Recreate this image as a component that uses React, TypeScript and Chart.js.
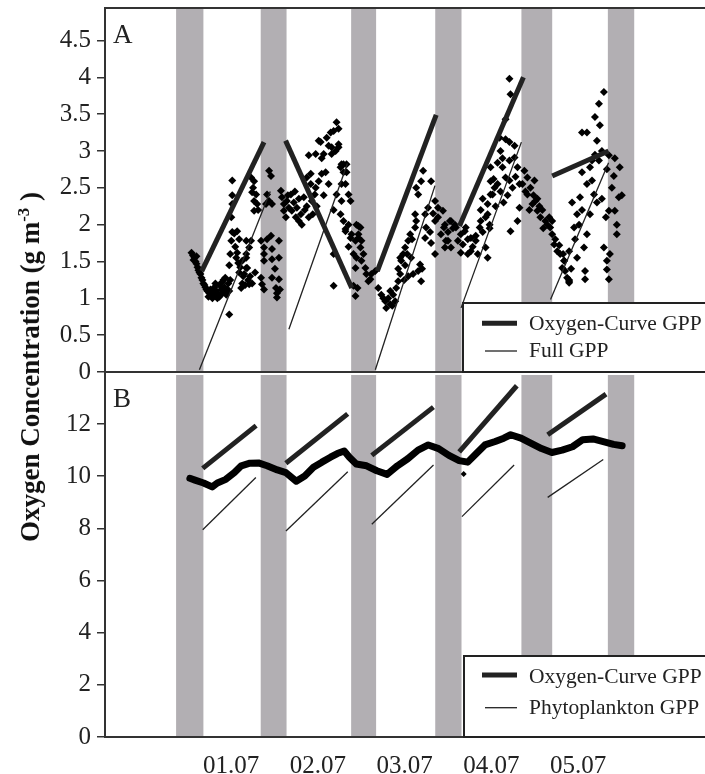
import React, { useEffect, useRef } from 'react';
import { Chart, registerables } from 'chart.js';

Chart.register(...registerables);

const FONT = "'Liberation Serif', 'Times New Roman', serif";

// x axis: days (1.5 = noon of 01.07)
const X_MIN = 0.044;
const X_MAX = 7.322;
const dayTicks = [1.5, 2.5, 3.5, 4.5, 5.5];
const dayLabels = ['01.07', '02.07', '03.07', '04.07', '05.07'];

// night periods (grey bands)
const nightStart = [0.864, 1.84, 2.883, 3.853, 4.847, 5.844];
const nightEnd = [1.179, 2.138, 3.171, 4.156, 5.202, 6.148];

// y ticks
const aTicks = [0, 0.5, 1, 1.5, 2, 2.5, 3, 3.5, 4, 4.5];
const bTicks = [0, 2, 4, 6, 8, 10, 12];

// Panel A: measured oxygen [day, g m-3]
const aOxygen: [number, number][] = [
  [1.042,1.62],[1.059,1.58],[1.076,1.55],[1.088,1.50],[1.099,1.47],[1.111,1.42],[1.122,1.38],[1.134,1.35],[1.145,1.33],[1.156,1.28],[1.168,1.25],[1.179,1.20],[1.191,1.18],[1.202,1.15],[1.214,1.12],[1.225,1.10],[1.248,1.07],[1.271,1.05],[1.065,1.52],[1.099,1.57],
  [1.237,1.02],[1.260,1.12],[1.283,1.00],[1.294,1.08],[1.306,1.15],[1.317,1.03],[1.328,1.10],[1.340,1.00],[1.351,1.06],[1.363,1.18],[1.374,1.04],[1.386,1.12],[1.397,1.22],[1.409,1.08],[1.420,1.15],[1.431,1.28],[1.443,1.05],[1.454,1.12],[1.466,1.20],[1.477,1.10],[1.489,1.25],[1.363,1.02],[1.409,1.25],[1.317,1.20],[1.477,0.78],
  [1.477,1.45],[1.489,1.60],[1.501,1.78],[1.512,1.90],[1.501,2.10],[1.512,2.28],[1.512,2.40],[1.512,2.60],[1.535,1.88],[1.546,1.70],[1.558,1.55],[1.569,1.62],[1.581,1.48],[1.592,1.35],[1.604,1.42],[1.627,1.20],[1.638,1.30],[1.661,1.18],[1.569,1.91],[1.592,1.80],[1.627,1.51],[1.673,1.60],[1.707,1.19],[1.673,1.41],[1.650,1.33],
  [1.729,2.64],[1.764,2.59],[1.741,2.44],[1.787,2.41],[1.764,2.32],[1.799,2.28],[1.764,2.19],[1.810,2.20],[1.752,2.50],[1.673,1.78],[1.707,1.69],[1.729,1.78],[1.673,1.55],[1.684,1.41],[1.718,1.30],[1.615,1.14],[1.695,1.25],[1.741,1.20],[1.775,1.35],
  [1.844,1.78],[1.878,1.69],[1.878,1.60],[1.878,1.51],[1.959,1.85],[1.970,1.67],[1.970,1.53],[2.050,1.78],[2.050,1.55],[1.844,1.28],[1.855,1.19],[1.878,1.12],[1.970,1.28],[2.050,1.26],[2.016,1.14],[2.027,1.07],[2.027,1.01],[2.062,1.12],[1.913,1.80],[2.004,1.40],
  [1.936,2.73],[1.959,2.66],[1.913,2.41],[1.936,2.32],[1.901,2.28],[1.970,2.28],[2.073,2.46],[2.085,2.37],[2.107,2.28],[2.107,2.19],[2.142,2.32],[2.188,2.41],[2.165,2.23],[2.199,2.19],[2.257,2.23],[2.303,2.14],[2.280,2.35],[2.337,2.37],[2.371,2.25],[2.429,2.32],[2.463,2.41],[2.474,2.50],[2.371,2.64],[2.417,2.55],[2.222,2.30],[2.245,2.10],[2.130,2.10],[2.314,2.00],[2.348,2.20],[2.394,2.10],[2.440,2.14],[2.486,2.25],[2.234,2.45],[2.280,2.05],[2.153,2.40],
  [2.394,2.94],[2.474,2.96],[2.543,2.90],[2.531,3.12],[2.623,3.07],[2.658,2.96],[2.738,3.05],[2.417,2.69],[2.589,2.71],[2.623,2.55],[2.761,2.78],[2.795,2.82],[2.830,2.71],[2.818,2.55],[2.853,2.41],[2.509,2.59],[2.543,2.69],[2.566,2.96],[2.601,3.18],[2.647,3.25],[2.509,3.14],[2.715,3.39],[2.738,3.30],[2.681,3.27],[2.658,3.05],[2.738,3.09],[2.704,3.00],[2.772,2.82],[2.830,2.82],[2.795,2.71],[2.772,2.55],[2.876,2.32],[2.772,2.32],[2.715,2.41],[2.566,2.40],[2.681,2.20],
  [2.761,2.14],[2.853,2.00],[2.818,1.91],[2.887,1.87],[2.944,2.00],[2.990,1.96],[2.967,1.82],[3.002,1.78],[2.910,1.60],[3.002,1.51],[3.047,1.41],[3.059,1.33],[3.105,1.26],[3.162,1.37],[2.681,1.17],[2.910,1.17],[2.933,1.03],[2.795,2.05],[2.818,1.94],[2.876,1.82],[2.933,1.78],[2.967,1.98],[2.967,1.87],[2.990,1.69],[2.944,1.55],[2.933,1.41],[3.025,1.60],[3.082,1.23],[3.116,1.33],[2.956,1.14],[2.681,1.60],[2.853,1.70],
  [3.196,1.14],[3.231,1.05],[3.277,0.96],[3.288,0.87],[3.334,0.92],[3.311,1.00],[3.368,1.05],[3.391,0.96],[3.403,1.14],[3.426,1.23],[3.449,1.33],[3.426,1.40],[3.460,1.51],[3.449,1.55],[3.483,1.60],[3.506,1.69],[3.541,1.78],[3.564,1.87],[3.586,1.80],[3.621,1.96],[3.633,2.05],[3.621,2.14],[3.656,2.41],[3.633,2.50],[3.690,2.59],[3.713,2.73],[3.805,2.59],[3.678,1.46],[3.701,1.40],[3.656,1.37],[3.690,1.23],[3.541,1.30],[3.598,1.33],[3.506,1.45],[3.254,1.00],[3.357,0.90],[3.334,1.10],[3.495,1.25],[3.575,1.55],[3.529,1.60],
  [3.736,2.14],[3.770,2.23],[3.747,1.96],[3.736,1.82],[3.793,1.90],[3.851,2.32],[3.828,2.15],[3.885,2.23],[3.851,2.05],[3.885,2.10],[3.942,2.19],[3.965,2.00],[3.919,1.87],[3.976,1.78],[3.965,1.69],[4.000,1.90],[4.034,2.05],[4.057,1.95],[4.091,1.96],[4.114,1.78],[4.148,1.87],[4.194,1.91],[4.171,1.73],[4.228,1.80],[4.263,1.82],[4.285,1.70],[4.263,1.64],[4.366,1.96],[4.377,2.05],[4.320,1.85],[4.434,1.69],[4.457,2.14],[4.480,2.00],[4.514,2.41],[4.491,2.59],[4.537,2.50],[4.457,1.55],[4.022,2.05],[3.953,1.96],[4.000,1.78],[4.034,1.69],[4.148,1.62],[4.080,2.00],[4.205,1.96],[4.228,1.60],[4.343,1.60],[4.320,1.78],[4.400,1.90],[3.851,1.60],[3.805,1.75],
  [4.709,3.98],[4.721,3.77],[4.664,3.43],[4.595,3.18],[4.664,3.16],[4.709,3.12],[4.768,3.07],[4.606,3.00],[4.629,2.90],[4.572,2.84],[4.491,2.78],[4.629,2.78],[4.709,2.87],[4.768,2.91],[4.802,2.78],[4.664,2.64],[4.709,2.60],[4.572,2.55],[4.526,2.62],[4.491,2.41],[4.457,2.28],[4.549,2.25],[4.434,2.10],[4.480,1.95],[4.377,2.20],[4.400,2.35],[4.721,1.91],[4.802,2.05],[4.825,2.23],[4.744,2.50],[4.687,2.40],[4.641,2.30],[4.606,2.45],[4.779,2.65],[4.825,2.55],
  [4.881,2.73],[4.916,2.64],[4.859,2.55],[4.951,2.50],[4.916,2.41],[4.974,2.28],[5.008,2.32],[5.031,2.19],[5.066,2.10],[5.123,2.05],[5.168,2.10],[5.179,1.96],[5.202,1.87],[5.237,1.80],[5.225,1.73],[5.260,1.64],[5.294,1.60],[5.340,1.51],[5.317,1.41],[5.351,1.37],[5.374,1.28],[5.397,1.21],[4.986,2.40],[5.088,2.20],[5.031,2.35],[5.145,2.00],[5.099,1.95],[4.893,2.45],[4.939,2.20],[5.054,2.25],[5.202,2.05],[5.283,1.72],[5.328,1.60],[5.397,1.25],[5.420,1.40],[4.997,2.60],
  [5.397,1.64],[5.454,1.96],[5.512,2.00],[5.489,2.14],[5.523,2.37],[5.546,2.71],[5.603,1.87],[5.569,1.69],[5.581,1.37],[5.581,1.26],[5.546,3.25],[5.603,3.25],[5.638,2.78],[5.661,2.87],[5.684,2.41],[5.638,2.14],[5.695,3.46],[5.718,3.14],[5.741,3.64],[5.798,3.80],[5.741,2.87],[5.856,2.94],[5.913,2.66],[5.890,2.50],[5.970,2.37],[5.924,2.19],[5.856,2.19],[5.981,2.78],[5.947,2.00],[5.947,1.87],[5.798,1.69],[5.833,1.51],[5.833,1.39],[5.856,1.26],[5.397,1.23],[5.340,1.51],[5.466,1.80],[5.546,2.20],[5.661,2.60],[5.718,2.30],[5.752,3.35],[5.775,3.00],[5.695,2.95],[5.833,2.75],[5.603,2.55],[5.489,1.55],[5.431,2.30],[5.775,2.35],[5.821,2.10],[5.867,1.60],[6.005,2.40],[5.924,2.90],
];

// Panel A segments [dayStart, valueStart, dayEnd, valueEnd]
const aCurveGpp: [number, number, number, number][] = [
  [1.160, 1.37, 1.878, 3.12],
  [2.127, 3.14, 2.890, 1.14],
  [3.185, 1.37, 3.864, 3.49],
  [4.133, 1.98, 4.870, 4.0],
  [5.202, 2.66, 5.852, 3.0],
];
const aFullGpp: [number, number, number, number][] = [
  [1.133, 0.03, 1.95, 2.45],
  [2.165, 0.58, 2.84, 2.83],
  [3.162, 0.03, 3.85, 2.53],
  [4.151, 0.87, 4.847, 3.12],
  [5.183, 0.985, 5.852, 2.84],
];

// Panel B: measured oxygen
const bOxygenDay = [1.023,1.082,1.181,1.280,1.340,1.438,1.537,1.616,1.715,1.814,1.913,2.032,2.130,2.250,2.348,2.448,2.546,2.645,2.724,2.803,2.863,2.942,3.061,3.179,3.298,3.417,3.536,3.655,3.773,3.892,4.011,4.129,4.228,4.327,4.426,4.545,4.644,4.723,4.842,4.960,5.079,5.198,5.317,5.436,5.554,5.673,5.791,5.910,6.009];
const bOxygenValue = [9.92,9.85,9.74,9.59,9.74,9.88,10.14,10.40,10.50,10.51,10.40,10.24,10.14,9.81,10.01,10.34,10.54,10.73,10.87,10.97,10.73,10.47,10.40,10.21,10.07,10.40,10.67,11.00,11.20,11.06,10.80,10.60,10.54,10.87,11.20,11.33,11.46,11.59,11.46,11.26,11.06,10.91,11.00,11.13,11.40,11.43,11.33,11.22,11.17];
const bOutlier: [number, number][] = [[4.181, 10.09]];

const bCurveGpp: [number, number, number, number][] = [
  [1.171, 10.3, 1.787, 11.94],
  [2.130, 10.5, 2.843, 12.39],
  [3.121, 10.8, 3.832, 12.65],
  [4.129, 10.93, 4.794, 13.47],
  [5.150, 11.59, 5.823, 13.15],
];
const bPhytoGpp: [number, number, number, number][] = [
  [1.171, 7.95, 1.784, 9.95],
  [2.131, 7.9, 2.844, 10.17],
  [3.121, 8.16, 3.833, 10.43],
  [4.161, 8.45, 4.763, 10.43],
  [5.150, 9.19, 5.791, 10.64],
];

const CANVAS_W = 740;
const A_H = 392;
const A_PAD_BOTTOM = A_H - 372;
const B_TOP = 370;
const B_H = 404;

function segDatasets(arr: [number, number, number, number][], width: number) {
  return arr.map((s) => ({
    type: 'line' as const,
    data: [{ x: s[0], y: s[1] }, { x: s[2], y: s[3] }],
    borderColor: '#222',
    borderWidth: width,
    pointRadius: 0,
    showLine: true,
    fill: false,
    tension: 0,
    order: 0,
  }));
}

function xScale(display: boolean) {
  return {
    type: 'linear' as const,
    min: X_MIN,
    max: X_MAX,
    display,
    grid: { display: false, drawTicks: false },
    border: { display: true, color: '#333', width: 2 },
    ticks: {
      autoSkip: false,
      maxRotation: 0,
      padding: 14,
      color: '#222',
      font: { family: FONT, size: 25 },
      callback: (v: any) => {
        const i = dayTicks.indexOf(Number(v));
        return i >= 0 ? dayLabels[i] : '';
      },
    },
    afterBuildTicks: (s: any) => {
      s.ticks = dayTicks.map((v) => ({ value: v }));
    },
    afterFit: (s: any) => {
      s.height = display ? B_H - (737 - B_TOP) : 0;
      s.paddingLeft = 0;
      s.paddingRight = 0;
    },
  };
}

function yScale(max: number, ticks: number[]) {
  return {
    type: 'linear' as const,
    min: 0,
    max,
    grid: { drawOnChartArea: false, drawTicks: true, tickLength: 8, color: '#333', lineWidth: 1.5 },
    border: { color: '#333', width: 2 },
    ticks: {
      padding: 6,
      color: '#222',
      font: { family: FONT, size: 25 },
      callback: (v: any) => String(v),
    },
    afterBuildTicks: (s: any) => {
      s.ticks = ticks.map((v) => ({ value: v }));
    },
    afterFit: (s: any) => {
      s.width = 105;
      s.paddingTop = 0;
      s.paddingBottom = 0;
    },
  };
}

function bandsPlugin(topInset: number) {
  return {
    id: 'bands',
    beforeDatasetsDraw(chart: any) {
      const { ctx, chartArea: a, scales } = chart;
      const x = scales.x;
      ctx.save();
      ctx.fillStyle = '#b2afb3';
      nightStart.forEach((s, i) => {
        const x0 = x.getPixelForValue(s);
        const x1 = x.getPixelForValue(nightEnd[i]);
        ctx.fillRect(x0, a.top + topInset, x1 - x0, a.bottom - a.top - topInset);
      });
      ctx.restore();
    },
  };
}

function decorPlugin(
  letter: string,
  letterBase: number,
  drawTop: boolean,
  legend: { left: number; top: number; rows: { y: number; base: number; thick: boolean; text: string }[] }
) {
  return {
    id: 'decor' + letter,
    afterDraw(chart: any) {
      const { ctx, chartArea: a } = chart;
      ctx.save();
      ctx.strokeStyle = '#333';
      ctx.lineWidth = 2;
      ctx.beginPath();
      if (drawTop) {
        ctx.moveTo(a.left - 1, a.top);
        ctx.lineTo(a.right, a.top);
      }
      ctx.moveTo(a.left - 1, a.bottom);
      ctx.lineTo(a.right, a.bottom);
      ctx.stroke();

      ctx.fillStyle = '#222';
      ctx.font = `27px ${FONT}`;
      ctx.textBaseline = 'alphabetic';
      ctx.textAlign = 'left';
      ctx.fillText(letter, 113, letterBase);

      // legend box
      const bx = legend.left;
      const by = legend.top;
      const bw = a.right - bx + 10;
      const bh = a.bottom - by;
      ctx.fillStyle = '#fff';
      ctx.fillRect(bx, by, bw, bh);
      ctx.strokeStyle = '#222';
      ctx.lineWidth = 2;
      ctx.strokeRect(bx, by, bw, bh);
      legend.rows.forEach((r) => {
        ctx.strokeStyle = '#222';
        ctx.lineWidth = r.thick ? 5 : 1.3;
        ctx.beginPath();
        ctx.moveTo(r.thick ? 482 : 485, r.y);
        ctx.lineTo(517, r.y);
        ctx.stroke();
        ctx.fillStyle = '#222';
        ctx.font = `21.5px ${FONT}`;
        ctx.fillText(r.text, 529, r.base);
      });
      ctx.restore();
    },
  };
}

export default function App() {
  const refA = useRef<HTMLCanvasElement>(null);
  const refB = useRef<HTMLCanvasElement>(null);

  useEffect(() => {
    if (!refA.current || !refB.current) return;
    const common = {
      animation: false as const,
      responsive: false,
      maintainAspectRatio: false,
      plugins: { legend: { display: false }, tooltip: { enabled: false } },
    };

    const chartA = new Chart(refA.current, {
      type: 'scatter',
      data: {
        datasets: [
          ...segDatasets(aCurveGpp, 5),
          ...segDatasets(aFullGpp, 1.3),
          {
            type: 'scatter' as const,
            data: aOxygen.map((p) => ({ x: p[0], y: p[1] })),
            pointStyle: 'rectRot',
            pointRadius: 4,
            borderWidth: 0,
            backgroundColor: '#000',
            order: 1,
          },
        ] as any,
      },
      options: {
        ...common,
        layout: { padding: { top: 8, bottom: A_PAD_BOTTOM, left: 0, right: 0 } },
        scales: { x: xScale(false), y: yScale(4.94, aTicks) } as any,
      },
      plugins: [
        bandsPlugin(0),
        decorPlugin('A', 43, true, {
          left: 463,
          top: 303,
          rows: [
            { y: 323.3, base: 329.5, thick: true, text: 'Oxygen-Curve GPP' },
            { y: 351, base: 356.7, thick: false, text: 'Full GPP' },
          ],
        }),
      ],
    });

    const chartB = new Chart(refB.current, {
      type: 'scatter',
      data: {
        datasets: [
          ...segDatasets(bCurveGpp, 5),
          ...segDatasets(bPhytoGpp, 1.3),
          {
            type: 'line' as const,
            data: bOxygenDay.map((d, i) => ({ x: d, y: bOxygenValue[i] })),
            borderColor: '#000',
            borderWidth: 7,
            pointRadius: 0,
            showLine: true,
            tension: 0,
            borderJoinStyle: 'round',
            borderCapStyle: 'round',
            order: 1,
          },
          {
            type: 'scatter' as const,
            data: bOutlier.map((p) => ({ x: p[0], y: p[1] })),
            pointStyle: 'rectRot',
            pointRadius: 3,
            borderWidth: 0,
            backgroundColor: '#000',
            order: 1,
          },
        ] as any,
      },
      options: {
        ...common,
        layout: { padding: { top: 2, bottom: 0, left: 0, right: 0 } },
        scales: { x: xScale(true), y: yScale(13.92, bTicks) } as any,
      },
      plugins: [
        bandsPlugin(1),
        decorPlugin('B', 407 - B_TOP, false, {
          left: 464,
          top: 656 - B_TOP,
          rows: [
            { y: 675 - B_TOP, base: 682.7 - B_TOP, thick: true, text: 'Oxygen-Curve GPP' },
            { y: 707.7 - B_TOP, base: 714.3 - B_TOP, thick: false, text: 'Phytoplankton GPP' },
          ],
        }),
      ],
    });

    return () => {
      chartA.destroy();
      chartB.destroy();
    };
  }, []);

  return (
    <div style={{ position: 'absolute', left: 0, top: 0, width: 705, height: 774, overflow: 'hidden', background: '#fff' }}>
      <canvas ref={refA} width={CANVAS_W} height={A_H} style={{ position: 'absolute', left: 0, top: 0, width: CANVAS_W, height: A_H }} />
      <canvas ref={refB} width={CANVAS_W} height={B_H} style={{ position: 'absolute', left: 0, top: B_TOP, width: CANVAS_W, height: B_H }} />
      <div
        style={{
          position: 'absolute',
          left: 30,
          top: 367,
          transform: 'translate(-50%, -50%) rotate(-90deg)',
          whiteSpace: 'nowrap',
          font: `bold 27px ${FONT}`,
          color: '#111',
          lineHeight: 1,
        }}
      >
        Oxygen Concentration (g m<sup style={{ fontSize: '0.62em' }}>-3</sup> )
      </div>
    </div>
  );
}
